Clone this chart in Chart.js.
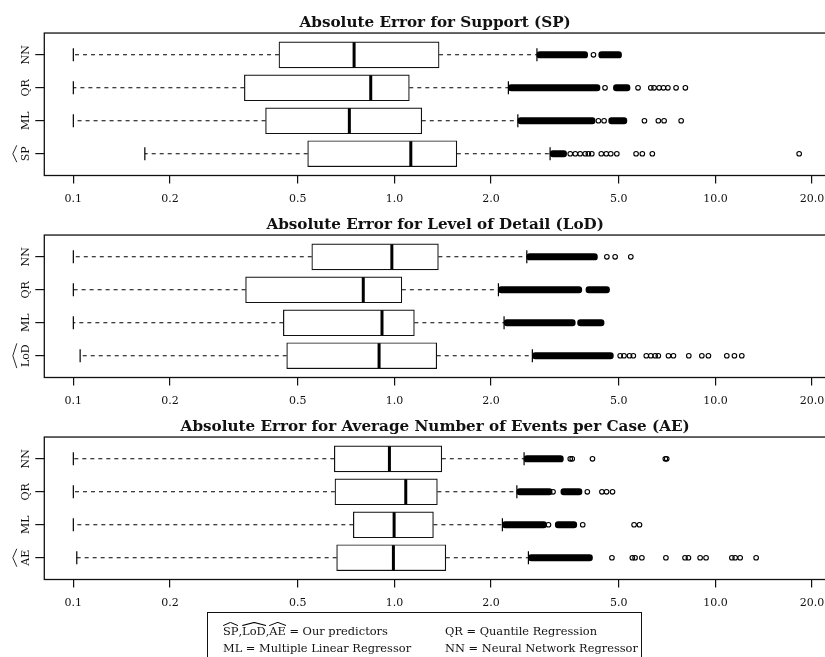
<!DOCTYPE html>
<html>
<head>
<meta charset="utf-8">
<script src="https://cdn.jsdelivr.net/npm/chart.js@4"></script>
<style>
  html, body { margin: 0; padding: 0; background: #fff; overflow: hidden; width: 825px; height: 657px; }
  .panel { position: absolute; left: 0; }
  #legend {
    position: absolute; left: 207px; top: 612px; width: 433px; height: 60px;
    border: 1.2px solid #111; font-family: "DejaVu Serif"; font-size: 11.4px; color: #111;
  }
  #legend .row { position: absolute; left: 0; white-space: nowrap; }
  #legend .c1 { position: absolute; left: 15px; }
  #legend .c2 { position: absolute; left: 237px; }
  .hat { position: relative; display: inline-block; }
  .hat::before {
    content: ""; position: absolute; left: 0; right: 0; top: -2px; height: 4px;
    background: url("data:image/svg+xml;utf8,<svg xmlns='http://www.w3.org/2000/svg' viewBox='0 0 100 10' preserveAspectRatio='none'><polyline points='1,9 50,1 99,9' fill='none' stroke='black' stroke-width='1' vector-effect='non-scaling-stroke'/></svg>") no-repeat;
    background-size: 100% 100%;
  }
</style>
</head>
<body>
<canvas id="chartSP" class="panel" style="top:0px"></canvas>
<canvas id="chartLoD" class="panel" style="top:202px"></canvas>
<canvas id="chartAE" class="panel" style="top:404px"></canvas>
<div id="legend">
  <div class="row" style="top:11px">
    <span class="c1"><span class="hat">SP</span>,<span class="hat">LoD</span>,<span class="hat">AE</span> = Our predictors</span>
    <span class="c2">QR = Quantile Regression</span>
  </div>
  <div class="row" style="top:28px">
    <span class="c1">ML = Multiple Linear Regressor</span>
    <span class="c2">NN = Neural Network Regressor</span>
  </div>
</div>
<script>
// rows from top to bottom: NN, QR, ML, our predictor
const rowNames = ['NN', 'QR', 'ML'];
const rowPos = [4, 3, 2, 1];
const xTickValues = [0.1, 0.2, 0.5, 1, 2, 5, 10, 20];
const xTickLabels = ['0.1', '0.2', '0.5', '1.0', '2.0', '5.0', '10.0', '20.0'];

// Support (SP)
const spLow  = [0.1, 0.1, 0.1, 0.167];
const spQ1   = [0.437, 0.341, 0.397, 0.537];
const spMed  = [0.749, 0.844, 0.724, 1.125];
const spQ3   = [1.378, 1.113, 1.217, 1.565];
const spHigh = [2.78, 2.265, 2.424, 3.055];
const spDense = [
  [[2.78, 4.0], [4.33, 5.1]],
  [[2.265, 4.37], [4.81, 5.42]],
  [[2.424, 4.22], [4.65, 5.3]],
  [[3.055, 3.44]]
];
const spOut = [
  [4.17],
  [4.53, 5.74, 6.29, 6.44, 6.68, 6.89, 7.11, 7.54, 8.06],
  [4.32, 4.5, 6.01, 6.64, 6.92, 7.82],
  [3.53, 3.66, 3.79, 3.93, 4.02, 4.12, 4.41, 4.57, 4.72, 4.93, 5.66, 5.92, 6.36, 18.23]
];

// Level of Detail (LoD)
const lodLow  = [0.1, 0.1, 0.1, 0.105];
const lodQ1   = [0.553, 0.344, 0.451, 0.462];
const lodMed  = [0.982, 0.8, 0.915, 0.896];
const lodQ3   = [1.371, 1.055, 1.154, 1.355];
const lodHigh = [2.585, 2.109, 2.196, 2.69];
const lodDense = [
  [[2.585, 4.29]],
  [[2.109, 3.835], [3.95, 4.68]],
  [[2.196, 3.66], [3.72, 4.5]],
  [[2.69, 4.81]]
];
const lodOut = [
  [4.59, 4.87, 5.45],
  [],
  [],
  [5.05, 5.19, 5.4, 5.55, 6.09, 6.29, 6.49, 6.64, 7.14, 7.4, 8.26, 9.07, 9.51, 10.85, 11.46, 12.08]
];

// Average Number of Events per Case (AE)
const aeLow  = [0.1, 0.1, 0.1, 0.1025];
const aeQ1   = [0.65, 0.653, 0.745, 0.661];
const aeMed  = [0.965, 1.085, 0.998, 0.993];
const aeQ3   = [1.405, 1.361, 1.323, 1.446];
const aeHigh = [2.535, 2.407, 2.17, 2.615];
const aeDense = [
  [[2.535, 3.36]],
  [[2.407, 3.1], [3.3, 3.84]],
  [[2.17, 2.98], [3.17, 3.7]],
  [[2.615, 4.14]]
];
const aeOut = [
  [3.53, 3.58, 4.14, 6.98, 7.05],
  [3.12, 3.99, 4.43, 4.58, 4.78],
  [3.02, 3.86, 5.58, 5.8],
  [4.76, 5.51, 5.62, 5.9, 7.01, 8.04, 8.24, 8.96, 9.35, 11.25, 11.52, 11.94, 13.39]
];

const FONT = '"DejaVu Serif"';
const INK = '#111';

function boxExtras(low, med, high, q1, q3, labels) {
  return {
    id: 'boxExtras',
    beforeDatasetsDraw(chart) {
      const ctx = chart.ctx, xs = chart.scales.x, ys = chart.scales.y;
      ctx.save();
      ctx.strokeStyle = '#000';
      rowPos.forEach((p, i) => {
        const y = ys.getPixelForValue(p);
        ctx.lineWidth = 1.1;
        ctx.setLineDash([4, 4]);
        ctx.beginPath();
        ctx.moveTo(xs.getPixelForValue(q1[i]), y);
        ctx.lineTo(xs.getPixelForValue(low[i]), y);
        ctx.moveTo(xs.getPixelForValue(q3[i]), y);
        ctx.lineTo(xs.getPixelForValue(high[i]), y);
        ctx.stroke();
        ctx.setLineDash([]);
        ctx.lineWidth = 1.2;
        ctx.beginPath();
        [low[i], high[i]].forEach(v => {
          const x = xs.getPixelForValue(v);
          ctx.moveTo(x, y - 6.5);
          ctx.lineTo(x, y + 6.5);
        });
        ctx.stroke();
      });
      ctx.restore();
    },
    afterDatasetsDraw(chart) {
      const ctx = chart.ctx, xs = chart.scales.x, ys = chart.scales.y;
      ctx.save();
      ctx.strokeStyle = '#000';
      ctx.lineWidth = 3;
      rowPos.forEach((p, i) => {
        const y = ys.getPixelForValue(p);
        const x = xs.getPixelForValue(med[i]);
        ctx.beginPath();
        ctx.moveTo(x, y - 12.5);
        ctx.lineTo(x, y + 12.5);
        ctx.stroke();
      });
      ctx.restore();
    },
    afterDraw(chart) {
      const ctx = chart.ctx, ys = chart.scales.y, a = chart.chartArea;
      ctx.save();
      ctx.strokeStyle = INK;
      ctx.lineWidth = 1.3;
      ctx.strokeRect(a.left, a.top, a.right - a.left, a.bottom - a.top);
      ctx.fillStyle = INK;
      ctx.font = '11px ' + FONT;
      ctx.textAlign = 'center';
      ctx.textBaseline = 'alphabetic';
      labels.forEach((lab, i) => {
        const y = ys.getPixelForValue(rowPos[i]);
        ctx.save();
        ctx.translate(a.left - 15, y);
        ctx.rotate(-Math.PI / 2);
        ctx.fillText(lab, 0, 0);
        if (i === 3) {
          const w = ctx.measureText(lab).width;
          ctx.lineWidth = 0.9;
          ctx.beginPath();
          ctx.moveTo(-w / 2 - 1, -12.5);
          ctx.lineTo(0, -16.5);
          ctx.lineTo(w / 2 + 1, -12.5);
          ctx.stroke();
        }
        ctx.restore();
      });
      ctx.restore();
    }
  };
}

function makePanel(id, title, predName, low, q1, med, q3, high, dense, out) {
  const canvas = document.getElementById(id);
  canvas.width = 850;
  canvas.height = 216;
  const labels = rowNames.concat([predName]);

  const boxData = rowPos.map((p, i) => ({ y: p, x: [q1[i], q3[i]] }));
  const denseData = [];
  dense.forEach((runs, i) => runs.forEach(r => denseData.push({ y: rowPos[i], x: r })));
  const outData = [];
  out.forEach((vals, i) => vals.forEach(v => outData.push({ x: v, y: rowPos[i] })));

  new Chart(canvas.getContext('2d'), {
    type: 'bar',
    data: {
      datasets: [
        {
          type: 'bar',
          data: boxData,
          backgroundColor: '#fff',
          borderColor: INK,
          borderWidth: 1.2,
          borderSkipped: false,
          barThickness: 26,
          grouped: false
        },
        {
          type: 'bar',
          data: denseData,
          backgroundColor: '#000',
          borderWidth: 0,
          borderRadius: 3.2,
          borderSkipped: false,
          barThickness: 6.4,
          grouped: false
        },
        {
          type: 'scatter',
          data: outData,
          pointRadius: 2.3,
          pointBorderWidth: 1.1,
          borderColor: '#000',
          backgroundColor: 'rgba(0,0,0,0)'
        }
      ]
    },
    options: {
      indexAxis: 'y',
      responsive: false,
      animation: false,
      devicePixelRatio: 1,
      layout: { padding: { left: 35.3, right: 24, top: 0, bottom: 0 } },
      plugins: {
        legend: { display: false },
        tooltip: { enabled: false },
        title: {
          display: true,
          text: title,
          fullSize: false,
          color: INK,
          font: { family: FONT, weight: 'bold', size: 15.2, lineHeight: 1.2 },
          padding: { top: 14, bottom: 0.8 }
        }
      },
      scales: {
        x: {
          type: 'logarithmic',
          position: 'bottom',
          min: 0.0812,
          max: 22.1,
          bounds: 'data',
          afterBuildTicks: s => { s.ticks = xTickValues.map(v => ({ value: v })); },
          afterFit: s => { s.height = 40.5; },
          border: { display: false },
          grid: { display: true, drawOnChartArea: false, drawTicks: true, tickLength: 8, color: INK, lineWidth: 1.2 },
          ticks: {
            autoSkip: false,
            maxRotation: 0,
            minRotation: 0,
            padding: 9.5,
            color: INK,
            font: { family: FONT, size: 11 },
            callback: v => {
              const k = xTickValues.findIndex(t => Math.abs(t - v) < 1e-9);
              return k >= 0 ? xTickLabels[k] : '';
            }
          }
        },
        y: {
          type: 'linear',
          position: 'left',
          min: 0.34,
          max: 4.66,
          offset: false,
          afterBuildTicks: s => { s.ticks = rowPos.map(v => ({ value: v })); },
          afterFit: s => { s.width = 9; },
          border: { display: false },
          grid: { display: true, offset: false, drawOnChartArea: false, drawTicks: true, tickLength: 9, color: INK, lineWidth: 1.2 },
          ticks: { display: false }
        }
      }
    },
    plugins: [boxExtras(low, med, high, q1, q3, labels)]
  });
}

makePanel('chartSP', 'Absolute Error for Support (SP)', 'SP',
  spLow, spQ1, spMed, spQ3, spHigh, spDense, spOut);
makePanel('chartLoD', 'Absolute Error for Level of Detail (LoD)', 'LoD',
  lodLow, lodQ1, lodMed, lodQ3, lodHigh, lodDense, lodOut);
makePanel('chartAE', 'Absolute Error for Average Number of Events per Case (AE)', 'AE',
  aeLow, aeQ1, aeMed, aeQ3, aeHigh, aeDense, aeOut);
</script>
</body>
</html>
